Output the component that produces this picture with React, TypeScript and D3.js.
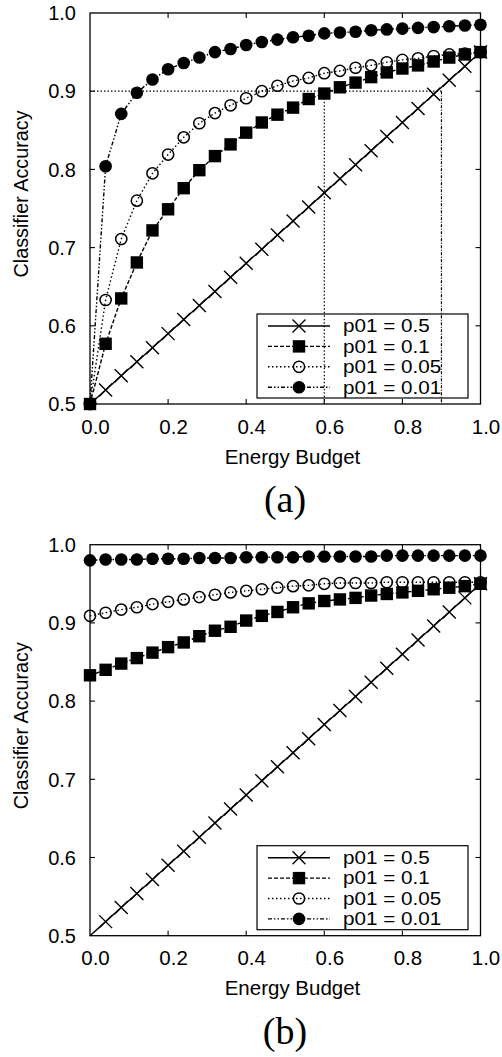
import React from "react";
import * as d3 from "d3";

// ---------- data ----------
const energyBudget = [0, 0.04, 0.08, 0.12, 0.16, 0.2, 0.24, 0.28, 0.32, 0.36, 0.4, 0.44, 0.48, 0.52, 0.56, 0.6, 0.64, 0.68, 0.72, 0.76, 0.8, 0.84, 0.88, 0.92, 0.96, 1.0];

const seriesLabels = ["p01 = 0.5", "p01 = 0.1", "p01 = 0.05", "p01 = 0.01"];

// panel (a)
const aP05 = [0.5, 0.518, 0.536, 0.554, 0.572, 0.59, 0.608, 0.626, 0.644, 0.662, 0.68, 0.698, 0.716, 0.734, 0.752, 0.77, 0.788, 0.806, 0.824, 0.842, 0.86, 0.878, 0.896, 0.914, 0.932, 0.95];
const aP01 = [0.5, 0.577, 0.635, 0.681, 0.722, 0.749, 0.776, 0.799, 0.817, 0.832, 0.847, 0.86, 0.87, 0.879, 0.89, 0.897, 0.905, 0.911, 0.918, 0.924, 0.929, 0.933, 0.938, 0.943, 0.947, 0.95];
const aP005 = [0.5, 0.633, 0.711, 0.76, 0.795, 0.819, 0.841, 0.859, 0.872, 0.882, 0.891, 0.9, 0.907, 0.913, 0.917, 0.923, 0.926, 0.93, 0.933, 0.937, 0.94, 0.942, 0.945, 0.947, 0.948, 0.95];
const aP001 = [0.5, 0.804, 0.871, 0.898, 0.915, 0.928, 0.936, 0.943, 0.95, 0.954, 0.959, 0.963, 0.966, 0.969, 0.971, 0.974, 0.975, 0.976, 0.978, 0.979, 0.98, 0.981, 0.982, 0.983, 0.984, 0.985];

// panel (b)
const bP05 = [0.5, 0.518, 0.536, 0.554, 0.572, 0.59, 0.608, 0.626, 0.644, 0.662, 0.68, 0.698, 0.716, 0.734, 0.752, 0.77, 0.788, 0.806, 0.824, 0.842, 0.86, 0.878, 0.896, 0.914, 0.932, 0.95];
const bP01 = [0.833, 0.84, 0.848, 0.855, 0.862, 0.869, 0.875, 0.883, 0.89, 0.895, 0.903, 0.909, 0.914, 0.92, 0.925, 0.928, 0.93, 0.932, 0.935, 0.937, 0.939, 0.941, 0.943, 0.945, 0.947, 0.95];
const bP005 = [0.909, 0.913, 0.917, 0.92, 0.924, 0.927, 0.93, 0.933, 0.936, 0.939, 0.941, 0.943, 0.945, 0.947, 0.948, 0.95, 0.951, 0.951, 0.951, 0.952, 0.952, 0.952, 0.952, 0.952, 0.952, 0.952];
const bP001 = [0.98, 0.981, 0.981, 0.981, 0.982, 0.982, 0.982, 0.983, 0.983, 0.983, 0.984, 0.984, 0.984, 0.984, 0.985, 0.985, 0.985, 0.985, 0.985, 0.986, 0.986, 0.986, 0.986, 0.986, 0.986, 0.986];

// reference lines in panel (a)
const refAccuracy = 0.9;
const refBudgets = [0.6, 0.9];

const xTicks = [0, 0.2, 0.4, 0.6, 0.8, 1.0];
const yTicks = [0.5, 0.6, 0.7, 0.8, 0.9, 1.0];

// ---------- styles ----------
const SANS = "'Liberation Sans', Arial, Helvetica, sans-serif";
const SERIF = "'Liberation Serif', 'Times New Roman', serif";
const styles = [
  { dash: "none", marker: "x" },
  { dash: "4,2", marker: "square" },
  { dash: "1.5,2.5", marker: "open" },
  { dash: "4,2,1.5,2,1.5,2", marker: "filled" },
];

function Marker({ type, x, y }: { type: string; x: number; y: number }) {
  if (type === "x") {
    const s = 6.5;
    return (
      <path
        d={`M${x - s},${y - s}L${x + s},${y + s}M${x - s},${y + s}L${x + s},${y - s}`}
        stroke="#000"
        strokeWidth={1.4}
        fill="none"
      />
    );
  }
  if (type === "square") return <rect x={x - 6.2} y={y - 6.2} width={12.4} height={12.4} fill="#000" />;
  if (type === "open") return <circle cx={x} cy={y} r={5.6} fill="none" stroke="#000" strokeWidth={1.5} />;
  return <circle cx={x} cy={y} r={6.3} fill="#000" />;
}

function Panel({ dy, data, label, refs }: { dy: number; data: number[][]; label: string; refs: boolean }) {
  const left = 90, right = 480.5, top = 13 + dy, bottom = 404 + dy;
  const x = d3.scaleLinear().domain([0, 1]).range([left, right]);
  const y = d3.scaleLinear().domain([0.5, 1]).range([bottom, top]);
  const fmt = d3.format(".1f");
  const line = d3
    .line<number>()
    .x((_, i) => x(energyBudget[i]))
    .y((d) => y(d));
  const tl = 5;
  const fs = 20.5;

  const legLeft = 257, legRight = 468, legTop = 314 + dy, legBottom = 398 + dy;
  const rowY = (i: number) => 326 + dy + i * 20.4;

  return (
    <g>
      {/* frame */}
      <rect x={left} y={top} width={right - left} height={bottom - top} fill="none" stroke="#000" strokeWidth={1.3} />
      {/* ticks */}
      {xTicks.slice(1, -1).map((t) => (
        <g key={"xt" + t}>
          <line x1={x(t)} x2={x(t)} y1={bottom} y2={bottom - tl} stroke="#000" strokeWidth={1.1} />
          <line x1={x(t)} x2={x(t)} y1={top} y2={top + tl} stroke="#000" strokeWidth={1.1} />
        </g>
      ))}
      {yTicks.slice(1, -1).map((t) => (
        <g key={"yt" + t}>
          <line x1={left} x2={left + tl} y1={y(t)} y2={y(t)} stroke="#000" strokeWidth={1.1} />
          <line x1={right} x2={right - tl} y1={y(t)} y2={y(t)} stroke="#000" strokeWidth={1.1} />
        </g>
      ))}
      {/* tick labels */}
      {xTicks.map((t) => (
        <text key={"xl" + t} x={x(t) + 5.5} y={bottom + 29.5} textAnchor="middle" fontFamily={SANS} fontSize={fs}>
          {fmt(t)}
        </text>
      ))}
      {yTicks.map((t) => (
        <text key={"yl" + t} x={76} y={y(t) + 7.2} textAnchor="end" fontFamily={SANS} fontSize={20}>
          {fmt(t)}
        </text>
      ))}
      {/* axis titles */}
      <text x={292.5} y={bottom + 59.5} textAnchor="middle" fontFamily={SANS} fontSize={fs}>
        Energy Budget
      </text>
      <text
        transform={`translate(28,${194 + dy}) rotate(-90)`}
        textAnchor="middle"
        fontFamily={SANS}
        fontSize={19.8}
      >
        Classifier Accuracy
      </text>
      {/* panel label */}
      <text x={285} y={512 + dy} textAnchor="middle" fontFamily={SERIF} fontSize={38}>
        {label}
      </text>

      {/* reference lines */}
      {refs && (
        <g fill="none" stroke="#000" strokeWidth={1.2}>
          <line x1={x(0)} x2={x(refBudgets[1])} y1={y(refAccuracy)} y2={y(refAccuracy)} strokeDasharray="1.5,2" />
          <line x1={x(refBudgets[0])} x2={x(refBudgets[0])} y1={y(refAccuracy)} y2={y(0.5)} strokeDasharray="1.5,2" />
          <line x1={x(refBudgets[1])} x2={x(refBudgets[1])} y1={y(refAccuracy)} y2={y(0.5)} strokeDasharray="3,1.5,1,1.5" />
        </g>
      )}

      {/* legend */}
      <rect x={legLeft} y={legTop} width={legRight - legLeft} height={legBottom - legTop} fill="none" stroke="#000" strokeWidth={1.2} />
      {seriesLabels.map((lab, i) => (
        <g key={"lg" + i}>
          <line x1={268} x2={330} y1={rowY(i)} y2={rowY(i)} stroke="#000" strokeWidth={1.4} strokeDasharray={styles[i].dash} />
          <Marker type={styles[i].marker} x={299} y={rowY(i)} />
          <text
            transform={`translate(343,${rowY(i) + 6.3}) scale(1.18,1)`}
            fontFamily={SANS}
            fontSize={17.5}
          >
            {lab}
          </text>
        </g>
      ))}

      {/* series */}
      {data.map((vals, si) => (
        <g key={"s" + si}>
          <path d={line(vals) || ""} fill="none" stroke="#000" strokeWidth={1.4} strokeDasharray={styles[si].dash} />
          {vals.map((v, i) =>
            styles[si].marker === "x" && energyBudget[i] === 0 ? null : (
              <Marker key={i} type={styles[si].marker} x={x(energyBudget[i])} y={y(v)} />
            )
          )}
        </g>
      ))}
    </g>
  );
}

export default function App() {
  return (
    <svg
      width={502}
      height={1057}
      viewBox="0 0 502 1057"
      style={{ position: "absolute", left: 0, top: 0, background: "#fff" }}
    >
      <rect width={502} height={1057} fill="#fff" />
      <Panel dy={0} data={[aP05, aP01, aP005, aP001]} label="(a)" refs={true} />
      <Panel dy={531.7} data={[bP05, bP01, bP005, bP001]} label="(b)" refs={false} />
    </svg>
  );
}
